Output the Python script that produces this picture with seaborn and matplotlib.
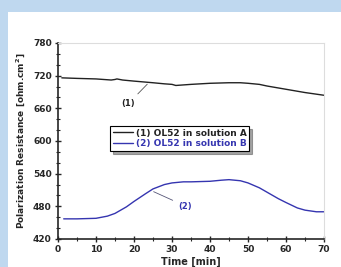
import numpy as np
import pandas as pd
import matplotlib
matplotlib.use("Agg")
import matplotlib.pyplot as plt
import seaborn as sns
from matplotlib.ticker import MultipleLocator

# data
time_a = [1, 5, 10, 14, 15, 15.5, 17, 20, 25, 28, 30, 31, 33, 35, 40, 45, 48, 50, 53, 55, 60, 65, 70]
rp_a = [716, 715, 714, 712, 713, 714, 712, 710, 707, 705, 704, 702, 703, 704, 706, 707, 707, 706, 704, 701, 695, 689, 684]

time_b = [1.5, 5, 10, 13, 15, 18, 20, 23, 25, 28, 30, 33, 35, 40, 43, 45, 48, 50, 53, 55, 58, 60, 63, 65, 68, 70]
rp_b = [457, 457, 458, 462, 467, 479, 489, 503, 512, 520, 523, 525, 525, 526, 528, 529, 527, 523, 514, 506, 494, 487, 477, 473, 470, 470]

labels = ["(1) OL52 in solution A", "(2) OL52 in solution B"]
colors = ["#222222", "#3535b0"]

df = pd.concat([
    pd.DataFrame({"Time": time_a, "Rp": rp_a, "series": labels[0]}),
    pd.DataFrame({"Time": time_b, "Rp": rp_b, "series": labels[1]}),
])

sns.set_style("ticks")
plt.rcParams["font.family"] = ["DejaVu Sans"]
plt.rcParams["font.weight"] = "bold"
plt.rcParams["mathtext.default"] = "bf"

fig = plt.figure(figsize=(3.41, 2.67), dpi=100, facecolor="#bfd8ef")
fig.patches.append(plt.Rectangle((8 / 341, 0), 1, 1 - 12 / 267, transform=fig.transFigure,
                                 facecolor="white", edgecolor="none", zorder=-5))
ax = fig.add_axes([58 / 341, 28 / 267, 266 / 341, 196 / 267])
ax.set_zorder(1)

sns.lineplot(data=df, x="Time", y="Rp", hue="series", palette=colors, linewidth=1.0, ax=ax)

ax.set_xlim(0, 70)
ax.set_ylim(420, 780)
ax.xaxis.set_major_locator(MultipleLocator(10))
ax.xaxis.set_minor_locator(MultipleLocator(5))
ax.yaxis.set_major_locator(MultipleLocator(60))
ax.yaxis.set_minor_locator(MultipleLocator(20))
ax.tick_params(which="major", direction="inout", length=5, width=1, labelsize=6.5, pad=2)
ax.tick_params(which="minor", direction="inout", length=3, width=0.8)
for lab in ax.get_xticklabels() + ax.get_yticklabels():
    lab.set_fontweight("bold")

for side in ["top", "right"]:
    ax.spines[side].set_color("#dddddd")
    ax.spines[side].set_linewidth(0.8)
for side in ["left", "bottom"]:
    ax.spines[side].set_linewidth(1.2)

ax.set_xlabel("Time [min]", fontsize=7, fontweight="bold", labelpad=2)
ax.set_ylabel("Polarization Resistance [ohm.cm$^2$]", fontsize=6.5, fontweight="bold", labelpad=4)

leg = ax.legend(loc="upper left", bbox_to_anchor=(0.18, 0.6), frameon=True, fancybox=False,
                shadow=True, edgecolor="black", fontsize=6.5, handlelength=2.2,
                borderpad=0.3, labelspacing=0.2, handletextpad=0.3, title=None)
leg.get_frame().set_linewidth(0.8)
for txt, c in zip(leg.get_texts(), colors):
    txt.set_color(c)
    txt.set_fontweight("bold")

ax.annotate("(1)", xy=(24, 708), xytext=(18.5, 664), fontsize=6, fontweight="bold",
            color=colors[0], ha="center",
            arrowprops=dict(arrowstyle="-", color="#555555", lw=0.6))
ax.annotate("(2)", xy=(24.5, 509), xytext=(33.5, 476), fontsize=6, fontweight="bold",
            color=colors[1], ha="center",
            arrowprops=dict(arrowstyle="-", color="#555577", lw=0.6))

fig.savefig("out.png", dpi=100, facecolor=fig.get_facecolor())
